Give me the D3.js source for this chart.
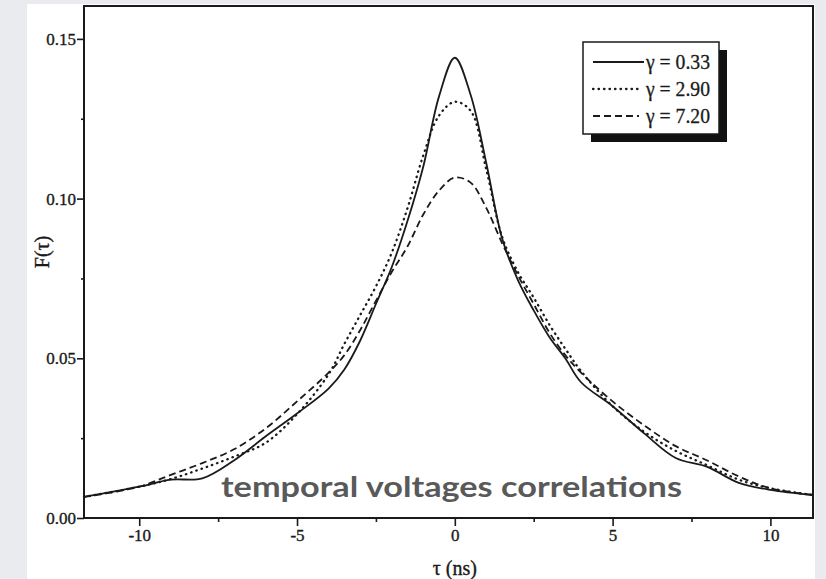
<!DOCTYPE html>
<html>
<head>
<meta charset="utf-8">
<script src="https://cdn.jsdelivr.net/npm/d3@7"></script>
<style>
  body { margin: 0; background: #e9ebee; }
  svg { display: block; }
</style>
</head>
<body>
<div class="chart"></div>
<script>
// time lag tau (ns)
var tau = [-11.75, -10, -9, -8, -7, -6, -5, -4, -3.5, -3, -2.5, -2, -1.5, -1, -0.5, 0,
           0.5, 1, 1.5, 2, 2.5, 3, 3.5, 4, 5, 6, 7, 8, 9, 10, 11.35];

// F(tau) for the three gamma values
var fGamma033 = [0.0066, 0.0098, 0.0120, 0.0124, 0.0180, 0.0255, 0.0327, 0.0405, 0.0465, 0.0555, 0.0670, 0.0785, 0.0930, 0.1100, 0.1320, 0.1441,
                 0.1325, 0.1110, 0.0875, 0.0745, 0.0650, 0.0566, 0.0500, 0.0425, 0.0350, 0.0265, 0.0188, 0.0160, 0.0110, 0.0088, 0.0072];
var fGamma290 = [0.0066, 0.0098, 0.0122, 0.0155, 0.0192, 0.0235, 0.0325, 0.0450, 0.0545, 0.0635, 0.0725, 0.0830, 0.0970, 0.1135, 0.1260, 0.1303,
                 0.1275, 0.1090, 0.0880, 0.0770, 0.0690, 0.0605, 0.0530, 0.0460, 0.0350, 0.0270, 0.0210, 0.0165, 0.0120, 0.0093, 0.0072];
var fGamma720 = [0.0066, 0.0098, 0.0135, 0.0172, 0.0215, 0.0280, 0.0365, 0.0455, 0.0510, 0.0588, 0.0680, 0.0770, 0.0850, 0.0950, 0.1025, 0.1066,
                 0.1050, 0.0970, 0.0860, 0.0760, 0.0670, 0.0580, 0.0510, 0.0455, 0.0365, 0.0290, 0.0225, 0.0180, 0.0130, 0.0093, 0.0072];

var seriesNames = ["\u03b3 = 0.33", "\u03b3 = 2.90", "\u03b3 = 7.20"];
var seriesValues = [fGamma033, fGamma290, fGamma720];
var seriesDash = [null, "0.5,5", "7,4"];

var xMajor = [-10, -5, 0, 5, 10];
var xMinor = [-7.5, -2.5, 2.5, 7.5];
var yMajor = [0, 0.05, 0.10, 0.15];
var yMinor = [0.025, 0.075, 0.125];

var W = 826, H = 579;
var box = { left: 84, right: 813, top: 6, bottom: 518 };

var svg = d3.select(".chart").append("svg")
  .attr("width", W)
  .attr("height", H);

// white page
svg.append("rect")
  .attr("x", 27).attr("y", 4)
  .attr("width", 788).attr("height", H - 4)
  .attr("fill", "#ffffff");

var x = d3.scaleLinear().domain([-11.75, 11.35]).range([box.left, box.right]);
var y = d3.scaleLinear().domain([0, 0.1603]).range([box.bottom, box.top]);

var serif = "'Liberation Serif', 'Times New Roman', serif";
var ink = "#1a1a1a";

// axes
svg.append("g")
  .attr("transform", "translate(0," + box.bottom + ")")
  .call(d3.axisBottom(x).tickValues(xMajor).tickSize(8).tickPadding(3)
        .tickFormat(function(d) { return d < 0 ? "-" + Math.abs(d) : d; }));
svg.append("g")
  .attr("transform", "translate(0," + box.bottom + ")")
  .call(d3.axisBottom(x).tickValues(xMinor).tickSize(4).tickFormat(""));

svg.append("g")
  .attr("transform", "translate(" + box.left + ",0)")
  .call(d3.axisLeft(y).tickValues(yMajor).tickSize(7).tickPadding(1)
        .tickFormat(d3.format(".2f")));
svg.append("g")
  .attr("transform", "translate(" + box.left + ",0)")
  .call(d3.axisLeft(y).tickValues(yMinor).tickSize(3).tickFormat(""));

svg.selectAll(".tick line").attr("stroke", ink).attr("stroke-width", 1.6);
svg.selectAll(".domain").remove();
svg.selectAll(".tick text")
  .attr("font-family", serif)
  .attr("font-size", 17)
  .attr("fill", ink)
  .attr("stroke", ink)
  .attr("stroke-width", 0.35);

// frame
svg.append("rect")
  .attr("x", box.left).attr("y", box.top)
  .attr("width", box.right - box.left).attr("height", box.bottom - box.top)
  .attr("fill", "none")
  .attr("stroke", ink)
  .attr("stroke-width", 2);

// axis titles
svg.append("text")
  .attr("x", x(0)).attr("y", 575)
  .attr("text-anchor", "middle")
  .attr("font-family", serif).attr("font-size", 20).attr("fill", ink)
  .attr("stroke", ink).attr("stroke-width", 0.35)
  .text("\u03c4 (ns)");

svg.append("text")
  .attr("transform", "translate(49,252) rotate(-90)")
  .attr("text-anchor", "middle")
  .attr("font-family", serif).attr("font-size", 20).attr("fill", ink)
  .attr("stroke", ink).attr("stroke-width", 0.35)
  .text("F(\u03c4)");

// curves
var line = d3.line()
  .x(function(d) { return x(d[0]); })
  .y(function(d) { return y(d[1]); })
  .curve(d3.curveCatmullRom.alpha(0.5));

svg.selectAll("path.curve")
  .data(seriesValues)
  .enter().append("path")
  .attr("class", "curve")
  .attr("d", function(vals) { return line(tau.map(function(t, i) { return [t, vals[i]]; })); })
  .attr("fill", "none")
  .attr("stroke", ink)
  .attr("stroke-width", function(d, i) { return i == 1 ? 2.3 : 1.8; })
  .attr("stroke-linecap", function(d, i) { return i == 1 ? "round" : "butt"; })
  .attr("stroke-dasharray", function(d, i) { return seriesDash[i]; });

// legend
var lg = svg.append("g").attr("transform", "translate(583,42)");
lg.append("rect")
  .attr("x", 8).attr("y", 8).attr("width", 136).attr("height", 92)
  .attr("fill", "#111");
lg.append("rect")
  .attr("x", 0).attr("y", 0).attr("width", 136).attr("height", 92)
  .attr("fill", "#fff").attr("stroke", ink).attr("stroke-width", 1.5);

var rows = lg.selectAll("g.row")
  .data(seriesNames)
  .enter().append("g")
  .attr("class", "row")
  .attr("transform", function(d, i) { return "translate(0," + (20 + i * 27) + ")"; });
rows.append("line")
  .attr("x1", 10).attr("x2", function(d, i) { return i == 0 ? 61 : 56; })
  .attr("stroke", ink)
  .attr("stroke-width", function(d, i) { return i == 1 ? 2.3 : 1.8; })
  .attr("stroke-linecap", function(d, i) { return i == 1 ? "round" : "butt"; })
  .attr("stroke-dasharray", function(d, i) { return seriesDash[i]; });
rows.append("text")
  .attr("x", 63).attr("y", 7)
  .attr("font-family", serif).attr("font-size", 20).attr("fill", ink)
  .attr("stroke", ink).attr("stroke-width", 0.3)
  .attr("textLength", 64)
  .attr("lengthAdjust", "spacingAndGlyphs")
  .text(function(d) { return d; });

// overlay caption
svg.append("text")
  .attr("x", 221).attr("y", 497)
  .attr("font-family", "Lato, 'Open Sans', sans-serif")
  .attr("font-weight", "bold")
  .attr("font-size", 28)
  .attr("fill", "#595959")
  .attr("textLength", 461)
  .attr("lengthAdjust", "spacingAndGlyphs")
  .text("temporal voltages correlations");
</script>
</body>
</html>
